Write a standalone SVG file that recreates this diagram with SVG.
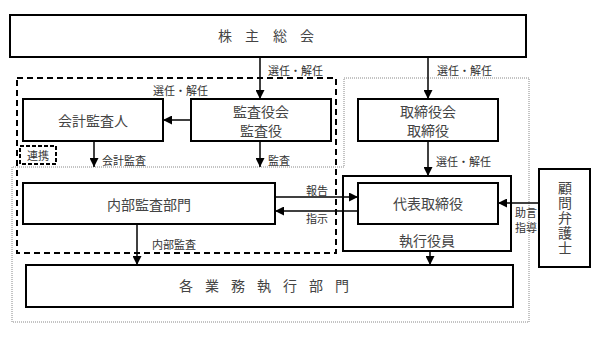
<svg xmlns="http://www.w3.org/2000/svg" width="602" height="337" viewBox="0 0 602 337">
<style>
.box{fill:#fff;stroke:#000;stroke-width:2}
.t{font-family:"Noto Sans CJK JP","Noto Sans CJK SC",sans-serif;font-size:14px;fill:#444;text-anchor:middle;dominant-baseline:central}
.l{font-family:"Noto Sans CJK JP","Noto Sans CJK SC",sans-serif;font-size:11px;fill:#333;dominant-baseline:central}
.c{fill:none;stroke:#000;stroke-width:1.5;marker-end:url(#ah)}
</style>
<defs>
<marker id="ah" viewBox="0 0 10 10" refX="10" refY="5" markerWidth="10" markerHeight="9" markerUnits="userSpaceOnUse" orient="auto">
<path d="M0,0 L10,5 L0,10 z" fill="#000"/>
</marker>
</defs>
<rect width="602" height="337" fill="#fff"/>
<g id="regions">
<path d="M344,78 H529 V322 H12 V167 H344 Z" fill="none" stroke="#888" stroke-width="1" stroke-dasharray="1,1"/>
<rect x="17" y="78" width="319" height="175" fill="none" stroke="#000" stroke-width="2" stroke-dasharray="6,4"/>
</g>
<g id="shareholders">
<rect class="box" x="10" y="15" width="516" height="42"/>
<text class="t" x="225 252 280 307" y="35">株主総会</text>
</g>
<g id="accounting-auditor">
<rect class="box" x="23" y="99" width="140" height="42"/>
<text class="t" x="93" y="120">会計監査人</text>
</g>
<g id="audit-board">
<rect class="box" x="191" y="99" width="140" height="42"/>
<text class="t" x="261" y="111">監査役会</text>
<text class="t" x="261" y="130">監査役</text>
</g>
<g id="board">
<rect class="box" x="358" y="99" width="140" height="42"/>
<text class="t" x="428" y="111">取締役会</text>
<text class="t" x="428" y="130">取締役</text>
</g>
<g id="cooperation">
<rect x="20" y="146" width="36" height="18" fill="#fff" stroke="#000" stroke-width="2" stroke-dasharray="4,2"/>
<text class="l" x="38" y="155" text-anchor="middle">連携</text>
</g>
<g id="internal-audit">
<rect class="box" x="23" y="183" width="252" height="41"/>
<text class="t" x="149" y="204">内部監査部門</text>
</g>
<g id="executive-officers">
<rect class="box" x="343" y="176" width="168" height="75"/>
<text class="t" x="427" y="240">執行役員</text>
</g>
<g id="representative-director">
<rect class="box" x="358" y="183" width="140" height="41"/>
<text class="t" x="428" y="203">代表取締役</text>
</g>
<g id="legal-counsel">
<rect class="box" x="539" y="169" width="51" height="98"/>
<text class="t" x="565" y="218" writing-mode="vertical-rl" letter-spacing="1">顧問弁護士</text>
</g>
<g id="business-divisions">
<rect class="box" x="26" y="265" width="487" height="42"/>
<text class="t" x="186 212 238 264 290 316 342" y="285">各業務執行部門</text>
</g>
<g id="connectors">
<path class="c" d="M260,57 V99"/>
<path class="c" d="M428,57 V99"/>
<path class="c" d="M191,120 H163"/>
<path class="c" d="M94,141 V167"/>
<path class="c" d="M260,141 V167"/>
<path class="c" d="M428,141 V176"/>
<path class="c" d="M137,224 V265"/>
<path class="c" d="M430,251 V265"/>
<path class="c" d="M275,197 H358"/>
<path class="c" d="M358,211 H275"/>
<path class="c" d="M539,203 H498"/>
<text class="l" x="268" y="70">選任・解任</text>
<text class="l" x="437" y="70">選任・解任</text>
<text class="l" x="153" y="90">選任・解任</text>
<text class="l" x="102" y="160">会計監査</text>
<text class="l" x="268" y="160">監査</text>
<text class="l" x="436" y="161">選任・解任</text>
<text class="l" x="317" y="190" text-anchor="middle">報告</text>
<text class="l" x="317" y="218" text-anchor="middle">指示</text>
<text class="l" x="152" y="244">内部監査</text>
<text class="l" x="526" y="211.5" text-anchor="middle" font-size="10">助言</text>
<text class="l" x="526" y="226.5" text-anchor="middle" font-size="10">指導</text>
</g>
</svg>
